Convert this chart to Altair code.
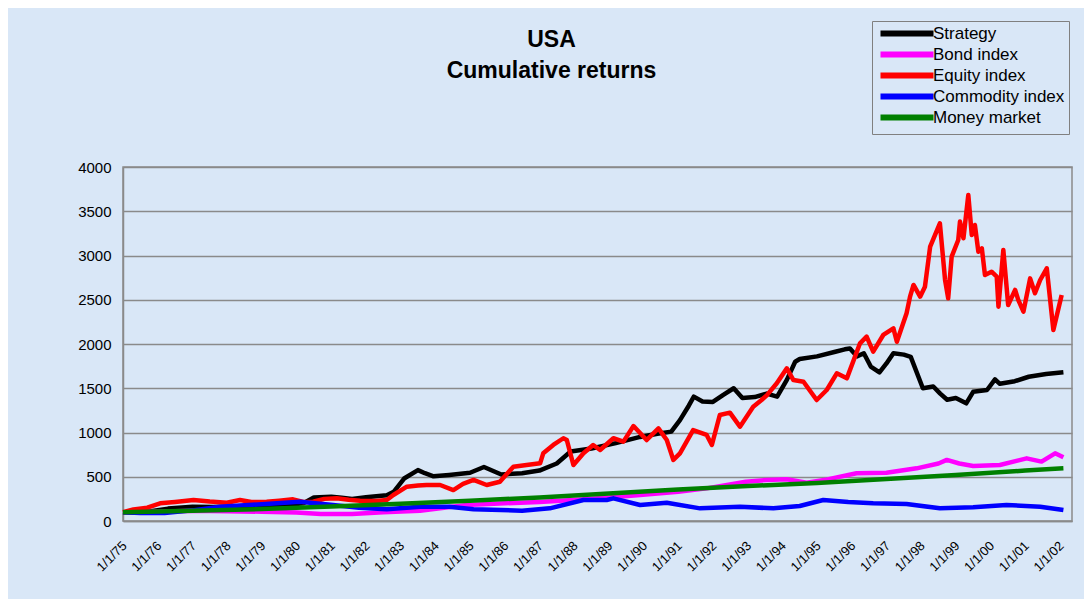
import altair as alt
import pandas as pd

# ---------------- data ----------------
strategy_years = [1975.0, 1975.4, 1975.8, 1976.3, 1977.0, 1977.6, 1978.3, 1979.0, 1979.6, 1980.2,
                  1980.5, 1981.0, 1981.3, 1981.6, 1982.0, 1982.6, 1982.8, 1983.1, 1983.5, 1983.7,
                  1983.95, 1984.4, 1985.0, 1985.4, 1985.9, 1986.5, 1987.0, 1987.5, 1987.9, 1988.5,
                  1989.2, 1989.9, 1990.4, 1990.8, 1991.05, 1991.3, 1991.45, 1991.7, 1992.0, 1992.3,
                  1992.6, 1992.85, 1993.2, 1993.55, 1993.85, 1994.13, 1994.37, 1994.5, 1995.0, 1995.5,
                  1995.8, 1995.95, 1996.15, 1996.35, 1996.55, 1996.8, 1997.0, 1997.2, 1997.5, 1997.7,
                  1998.05, 1998.35, 1998.55, 1998.75, 1999.0, 1999.3, 1999.5, 1999.9, 2000.13, 2000.27,
                  2000.7, 2001.1, 2001.6, 2002.1]
strategy_values = [100, 92, 110, 140, 160, 158, 168, 172, 178, 200,
                   265, 275, 262, 250, 268, 292, 330, 480, 575, 540,
                   505, 520, 545, 610, 525, 540, 570, 650, 785, 820,
                   880, 950, 985, 1010, 1140, 1300, 1405, 1350, 1345, 1425,
                   1500, 1390, 1400, 1440, 1405, 1595, 1800, 1830, 1860, 1910,
                   1940, 1950, 1860, 1895, 1745, 1680, 1780, 1895, 1880, 1855,
                   1500, 1520, 1440, 1370, 1390, 1330, 1460, 1480, 1600, 1550,
                   1580, 1630, 1660, 1680]

bond_years = [1975.0, 1976.0, 1977.0, 1978.0, 1979.0, 1980.0, 1980.7, 1981.6, 1982.5, 1983.56,
              1984.9, 1986.0, 1987.0, 1987.98, 1989.0, 1989.9, 1991.0, 1991.82, 1992.95, 1993.55,
              1994.13, 1994.7, 1995.3, 1996.14, 1997.0, 1997.87, 1998.5, 1998.74, 1999.1, 1999.5,
              2000.27, 2001.04, 2001.47, 2001.86, 2002.1]
bond_values = [100, 105, 115, 110, 105, 95, 80, 80, 100, 117,
               181, 200, 215, 237, 265, 294, 330, 369, 444, 464,
               471, 433, 470, 539, 546, 595, 650, 690, 650, 622,
               633, 708, 671, 765, 720]

equity_years = [1975.0, 1975.3, 1975.7, 1976.07, 1976.5, 1977.03, 1977.5, 1977.99, 1978.37, 1978.7,
                1979.14, 1979.5, 1979.9, 1980.2, 1980.48, 1980.8, 1981.16, 1981.5, 1981.83, 1982.3,
                1982.6, 1982.79, 1983.18, 1983.5, 1983.75, 1984.14, 1984.52, 1984.8, 1985.1, 1985.48,
                1985.86, 1986.25, 1986.63, 1987.02, 1987.11, 1987.4, 1987.69, 1987.79, 1987.98, 1988.27,
                1988.55, 1988.75, 1989.13, 1989.42, 1989.71, 1990.09, 1990.43, 1990.67, 1990.86, 1991.05,
                1991.43, 1991.82, 1991.97, 1992.2, 1992.49, 1992.78, 1993.16, 1993.4, 1993.55, 1993.84,
                1994.13, 1994.32, 1994.61, 1994.99, 1995.28, 1995.57, 1995.86, 1996.24, 1996.43, 1996.62,
                1996.91, 1997.2, 1997.3, 1997.58, 1997.68, 1997.78, 1997.97, 1998.11, 1998.26, 1998.54,
                1998.69, 1998.78, 1998.88, 1999.07, 1999.12, 1999.22, 1999.36, 1999.46, 1999.55, 1999.65,
                1999.75, 1999.84, 2000.03, 2000.18, 2000.23, 2000.37, 2000.51, 2000.71, 2000.8, 2000.95,
                2001.14, 2001.28, 2001.43, 2001.62, 2001.81, 2002.05]
equity_values = [100, 130, 150, 200, 215, 237, 220, 207, 237, 215,
                 218, 230, 245, 215, 218, 250, 256, 240, 230, 225,
                 237, 294, 388, 400, 407, 407, 350, 420, 464, 407,
                 444, 614, 633, 652, 765, 859, 935, 915, 633, 765,
                 859, 802, 935, 897, 1073, 915, 1047, 915, 690, 765,
                 1028, 972, 859, 1198, 1224, 1066, 1292, 1367, 1420, 1556,
                 1725, 1593, 1574, 1367, 1480, 1669, 1612, 2008, 2083, 1913,
                 2102, 2177, 2026, 2347, 2535, 2667, 2535, 2648, 3100, 3364,
                 2723, 2516, 2987, 3175, 3383, 3194, 3684, 3232, 3345, 3043,
                 3081, 2780, 2817, 2761, 2422, 3062, 2441, 2611, 2498, 2366,
                 2742, 2573, 2723, 2855, 2159, 2554]

commodity_years = [1975.0, 1975.5, 1976.2, 1977.0, 1977.8, 1979.0, 1980.1, 1981.05, 1981.8, 1982.6,
                   1983.56, 1984.4, 1985.1, 1986.5, 1987.3, 1988.27, 1988.94, 1989.13, 1989.9, 1990.67,
                   1991.63, 1992.78, 1993.74, 1994.5, 1995.18, 1995.9, 1996.62, 1997.58, 1998.54, 1999.5,
                   2000.46, 2001.43, 2002.1]
commodity_values = [100, 90, 90, 120, 162, 190, 218, 181, 150, 132,
                    162, 160, 132, 117, 143, 237, 237, 256, 181, 207,
                    143, 162, 143, 170, 237, 215, 200, 192, 143, 155,
                    181, 162, 124]

money_years = [1975.0, 1977.0, 1979.0, 1981.0, 1983.0, 1985.0, 1987.0, 1989.0, 1991.0, 1993.0,
               1995.0, 1997.0, 1999.0, 2001.0, 2002.1]
money_values = [100, 115, 135, 165, 195, 230, 265, 310, 355, 395,
                430, 475, 520, 570, 595]

series_names = ["Strategy", "Bond index", "Equity index", "Commodity index", "Money market"]
series_colors = ["#000000", "#ff00ff", "#ff0000", "#0000ff", "#008000"]
y_ticks = [0, 500, 1000, 1500, 2000, 2500, 3000, 3500, 4000]
x_tick_years = list(range(1975, 2003))


def to_date(y):
    base = pd.Timestamp(int(y), 1, 1)
    return base + pd.Timedelta(days=(y - int(y)) * 365.25)


frames = []
for name, ys, vs in zip(series_names,
                        [strategy_years, bond_years, equity_years, commodity_years, money_years],
                        [strategy_values, bond_values, equity_values, commodity_values, money_values]):
    frames.append(pd.DataFrame({"date": [to_date(y) for y in ys], "value": vs, "series": name}))
df = pd.concat(frames, ignore_index=True)

FONT = "Liberation Sans"
BG = "#d9e7f7"
GRID = "#8a8a8a"

x_enc = alt.X(
    "date:T",
    scale=alt.Scale(domain=[alt.DateTime(year=1975, month=1, date=1),
                            alt.DateTime(year=2002, month=5, date=8)]),
    axis=alt.Axis(values=[alt.DateTime(year=y, month=1, date=1) for y in x_tick_years],
                  format="%-m/%-d/%y", labelAngle=315, labelFontSize=13, labelFont=FONT,
                  labelColor="black", labelPadding=18, labelOffset=-3, ticks=False, grid=False,
                  domainColor=GRID, domainWidth=1.5, title=None, labelOverlap=False,
                  labelAlign="right", labelBaseline="top"),
)
y_enc = alt.Y(
    "value:Q",
    scale=alt.Scale(domain=[0, 4000], nice=False),
    axis=alt.Axis(values=y_ticks, format="d", labelFontSize=15, labelFont=FONT,
                  labelColor="black", labelPadding=12, ticks=False, grid=True,
                  gridColor=GRID, gridWidth=1.5, domainColor=GRID, domainWidth=1.5,
                  title=None),
)
color_enc = alt.Color(
    "series:N",
    scale=alt.Scale(domain=series_names, range=series_colors),
    legend=alt.Legend(orient="none", legendX=749, legendY=-146, title=None,
                      symbolType="M-1,0H12.25", symbolSize=64, symbolStrokeWidth=6,
                      labelFontSize=17, labelFont=FONT, labelColor="black",
                      strokeColor="#808080", padding=4, rowPadding=-6, labelOffset=40,
                      fillColor=BG),
)

layers = []
for name in series_names:
    layers.append(
        alt.Chart(df).transform_filter(alt.datum.series == name)
        .mark_line(strokeWidth=4.5, strokeJoin="round")
        .encode(x=x_enc, y=y_enc, color=color_enc)
    )

chart = alt.layer(*layers).properties(
    width=949,
    height=354,
    autosize=alt.AutoSizeParams(type="none"),
    padding={"left": 115, "top": 159, "right": 12, "bottom": 78},
    background=BG,
    title=alt.TitleParams(["USA", "Cumulative returns"], fontSize=23, font=FONT,
                          fontWeight="bold", anchor="middle", dx=-46, offset=-62,
                          lineHeight=31, color="black"),
).configure_view(stroke=GRID, strokeWidth=1.5)

chart.save("out.html", embed_options={"renderer": "svg", "actions": False})
